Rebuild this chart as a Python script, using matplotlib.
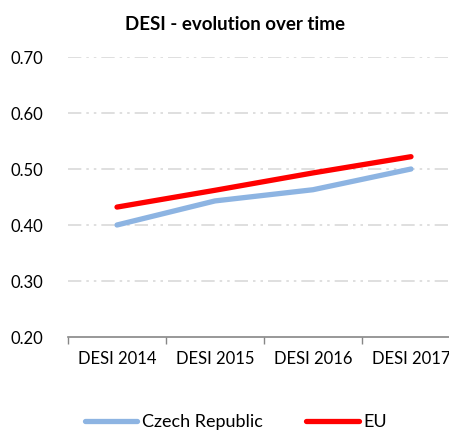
import matplotlib
matplotlib.use("Agg")
import matplotlib.pyplot as plt
import numpy as np

categories = ["DESI 2014", "DESI 2015", "DESI 2016", "DESI 2017"]
czech = [0.400, 0.443, 0.463, 0.500]
eu = [0.432, 0.462, 0.493, 0.522]
yticks = [0.20, 0.30, 0.40, 0.50, 0.60, 0.70]

plt.rcParams['font.family'] = ['Lato', 'DejaVu Sans']

fig = plt.figure(figsize=(4.49, 4.32), dpi=100)
W, H = 449, 432
ax = fig.add_axes([68 / W, (H - 337) / H, (460 - 68) / W, (337 - 57) / H])

x = np.arange(len(categories))
ax.plot(x, czech, color="#8db4e2", lw=3.8, solid_capstyle="round", label="Czech Republic")
ax.plot(x, eu, color="#ff0000", lw=3.8, solid_capstyle="round", label="EU")

ax.set_xlim(-0.5, len(categories) - 0.5)
ax.set_ylim(0.2, 0.7)
ax.set_yticks(yticks)
ax.set_yticklabels([f"{v:.2f}" for v in yticks], fontsize=12)
ax.set_xticks(x)
ax.set_xticklabels(categories, fontsize=12)
ax.set_xticks(np.arange(-0.5, len(categories), 1.0), minor=True)
ax.tick_params(axis='x', which='major', length=0, pad=10)
ax.tick_params(axis='x', which='minor', length=5, color="#868686", width=1)
ax.tick_params(axis='y', length=0, pad=18)

for v in yticks[1:]:
    ax.axhline(v, color="#d9d9d9", lw=1.2, dashes=(8, 3, 1.5, 3, 1.5, 3), zorder=0)

for s in ["top", "right", "left"]:
    ax.spines[s].set_visible(False)
ax.spines["bottom"].set_color("#868686")
ax.spines["bottom"].set_linewidth(1.2)

fig.text(235 / W, 1 - 25 / H, "DESI - evolution over time", ha="center", va="center",
         fontsize=13.5, fontweight="bold")

leg = fig.legend(loc="center", bbox_to_anchor=(236 / W, 1 - 422 / H), ncol=2, frameon=False,
                 fontsize=13, handlelength=2.9, columnspacing=2.4, handletextpad=0.28)

fig.savefig("out.png", dpi=100)
